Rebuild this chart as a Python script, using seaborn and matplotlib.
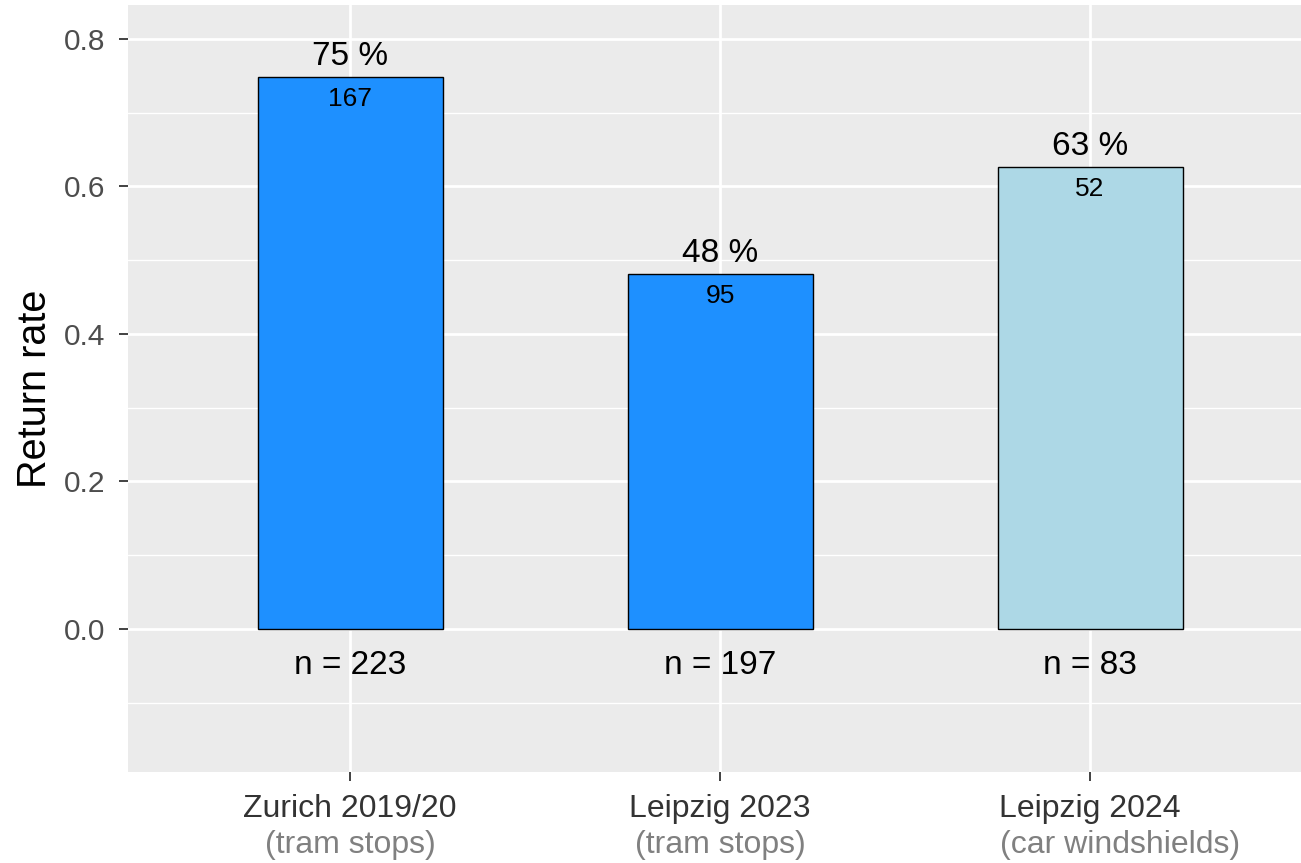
import matplotlib
matplotlib.use("Agg")
import matplotlib.pyplot as plt
import matplotlib.transforms as mtransforms
import seaborn as sns
import pandas as pd
from matplotlib.ticker import MultipleLocator

# ---- data ----
categories = ["Zurich 2019/20", "Leipzig 2023", "Leipzig 2024"]
subtitles = ["(tram stops)", "(tram stops)", "(car windshields)"]
returned = [167, 95, 52]
n_total = [223, 197, 83]
rates = [0.749, 0.482, 0.627]
pct_labels = ["75 %", "48 %", "63 %"]
bar_colors = ["#1E90FF", "#1E90FF", "#ADD8E6"]
y_ticks = [0.0, 0.2, 0.4, 0.6, 0.8]

df = pd.DataFrame({"cat": categories, "rate": rates})

sns.set_theme(style="darkgrid")
plt.rcParams["font.family"] = ["Liberation Sans", "DejaVu Sans"]

W, H = 1301, 863
fig = plt.figure(figsize=(W / 100, H / 100), dpi=100)
ax = fig.add_axes([128 / W, 1 - 772 / H, 1184 / W, 767 / H])
ax.set_facecolor("#EBEBEB")

sns.barplot(data=df, x="cat", y="rate", hue="cat", palette=bar_colors,
            edgecolor="black", linewidth=1.0, width=0.5, legend=False,
            ax=ax, zorder=3, saturation=1)

ax.set_xlim(-0.6, 2.6)
ax.set_ylim(-0.1939, 0.8461)
ax.yaxis.set_major_locator(MultipleLocator(0.2))
ax.yaxis.set_minor_locator(MultipleLocator(0.1))
ax.set_yticks(y_ticks)
ax.set_yticklabels([f"{v:.1f}" for v in y_ticks])

ax.grid(which="major", color="white", linewidth=2.0, zorder=0)
ax.grid(which="minor", axis="y", color="white", linewidth=1.0, zorder=0)
ax.set_axisbelow(True)
for s in ax.spines.values():
    s.set_visible(False)

ax.tick_params(axis="y", which="major", length=6.5, width=1.3, color="#333333",
               labelsize=21.5, labelcolor="#4D4D4D", pad=10, left=True)
ax.tick_params(axis="y", which="minor", length=0)
ax.tick_params(axis="x", which="major", length=6.5, width=1.3, color="#333333",
               labelsize=23, labelcolor="#333333", pad=9, bottom=True)
ax.set_xticks(range(len(categories)))
ax.set_xticklabels(categories)

ax.set_xlabel("")
ax.set_ylabel("Return rate", fontsize=28.5, color="black", labelpad=7)

# value labels
for i, (r, p, k, n) in enumerate(zip(rates, pct_labels, returned, n_total)):
    ax.annotate(p, (i, r), xytext=(0, 3.5), textcoords="offset points",
                ha="center", va="bottom", fontsize=24, color="black", zorder=5)
    ax.annotate(str(k), (i, r), xytext=(0, -7.5), textcoords="offset points",
                ha="center", va="top", fontsize=19, color="black", zorder=5)
    ax.annotate(f"n = {n}", (i, 0), xytext=(0, -26), textcoords="offset points",
                ha="center", va="center", fontsize=24, color="black", zorder=5)

# second line of x labels (the last one is shifted right in the original)
sub_shift = [0, 0, 21.6]
trans = mtransforms.blended_transform_factory(ax.transData, fig.transFigure)
for i, sub in enumerate(subtitles):
    ax.annotate(sub, (i, 1 - 845 / H), xycoords=trans,
                xytext=(sub_shift[i], 0), textcoords="offset points",
                ha="center", va="center", fontsize=23, color="#808080",
                annotation_clip=False)

fig.savefig("out.png", dpi=100)
